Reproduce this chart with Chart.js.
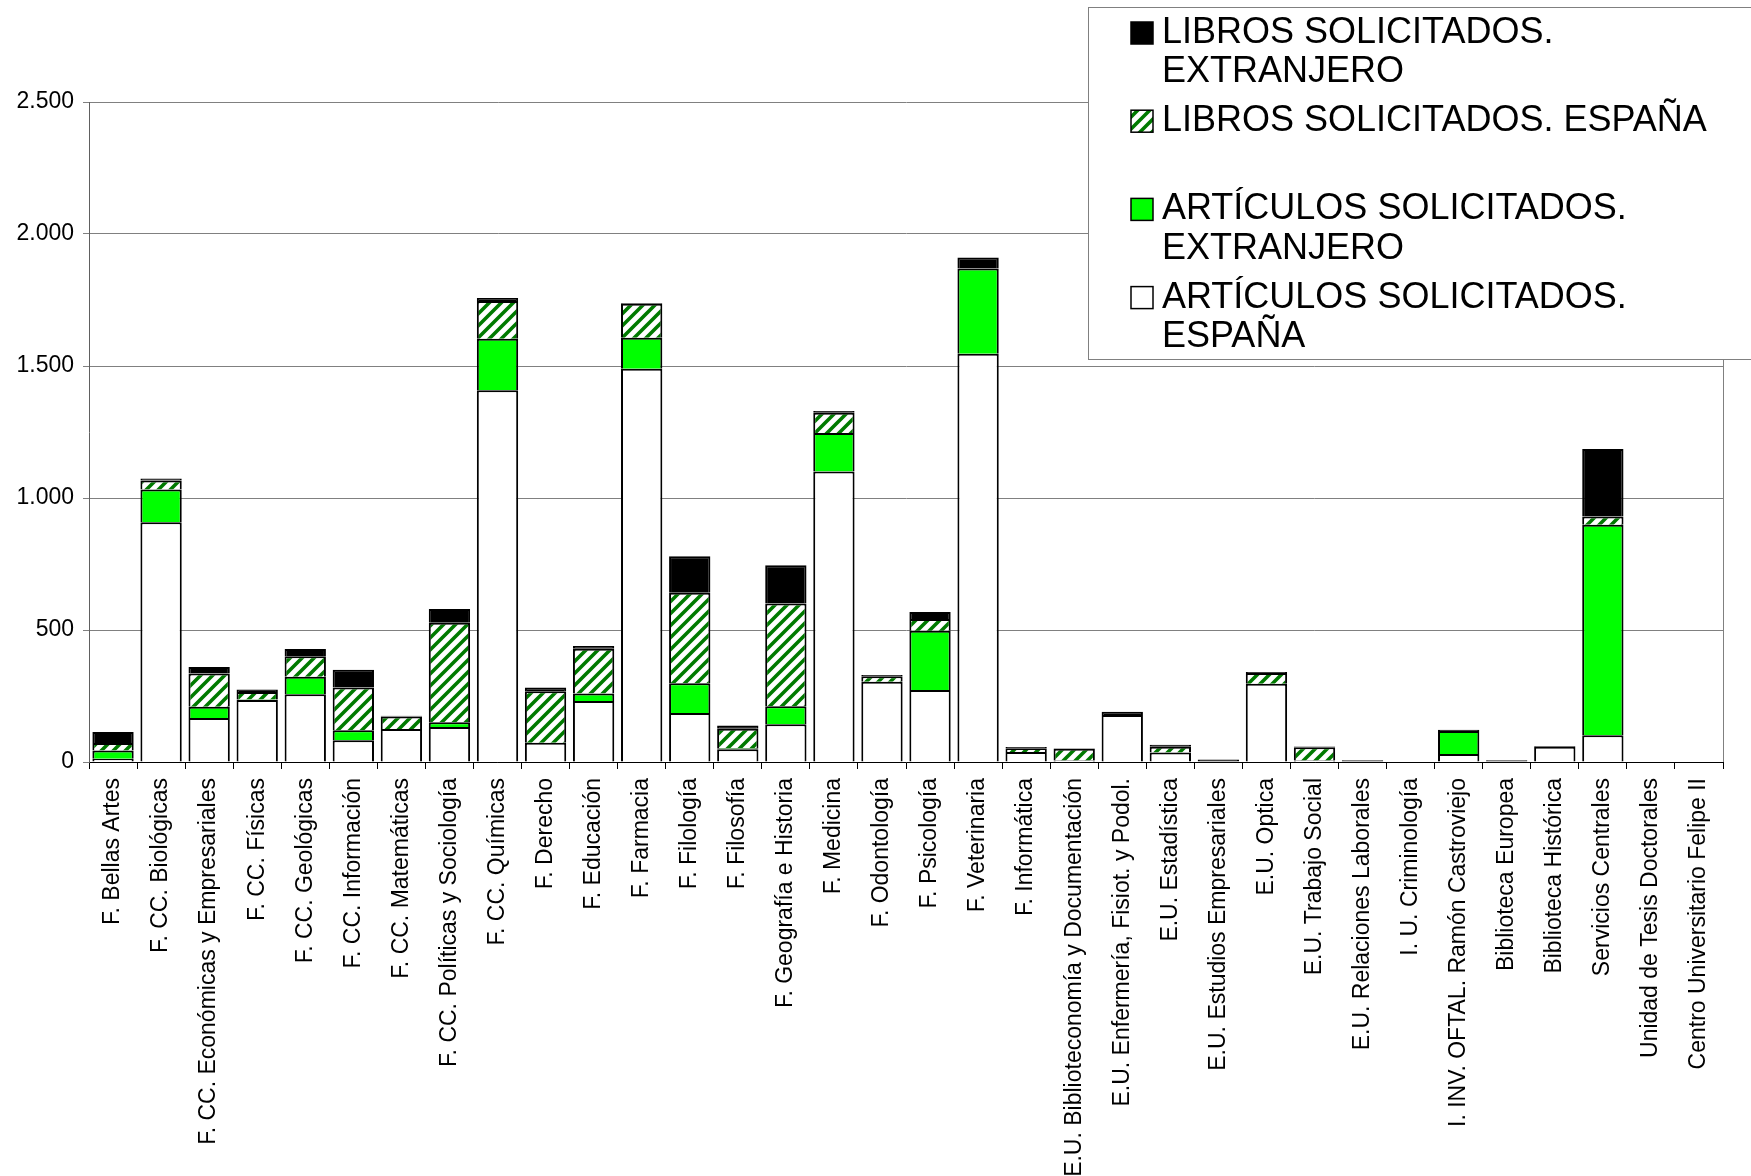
<!DOCTYPE html>
<html><head><meta charset="utf-8">
<script src="https://cdn.jsdelivr.net/npm/chart.js@4.4.1/dist/chart.umd.min.js"></script>
<style>html,body{margin:0;padding:0;background:#fff}canvas{display:block}</style>
</head><body>
<canvas id="c" width="1751" height="1176"></canvas>
<script>
const categories = [
  "F. Bellas Artes","F. CC. Biológicas","F. CC. Económicas y Empresariales","F. CC. Físicas",
  "F. CC. Geológicas","F. CC. Información","F. CC. Matemáticas","F. CC. Políticas y Sociología",
  "F. CC. Químicas","F. Derecho","F. Educación","F. Farmacia","F. Filología","F. Filosofía",
  "F. Geografía e Historia","F. Medicina","F. Odontología","F. Psicología","F. Veterinaria",
  "F. Informática","E.U. Biblioteconomía y Documentación","E.U. Enfermería, Fisiot. y Podol.",
  "E.U. Estadística","E.U. Estudios Empresariales","E.U. Optica","E.U. Trabajo Social",
  "E.U. Relaciones Laborales","I. U. Criminología","I. INV. OFTAL. Ramón Castroviejo",
  "Biblioteca Europea","Biblioteca Histórica","Servicios Centrales","Unidad de Tesis Doctorales",
  "Centro Universitario Felipe II"
];
const seriesNames = [
  "ARTÍCULOS SOLICITADOS. ESPAÑA",
  "ARTÍCULOS SOLICITADOS. EXTRANJERO",
  "LIBROS SOLICITADOS. ESPAÑA",
  "LIBROS SOLICITADOS. EXTRANJERO"
];
const articulosEspana     = [12, 908, 167, 235, 257, 82, 125, 133, 1408, 73, 231, 1490, 186, 48, 143, 1100, 304, 273, 1546, 38, 6, 178, 36, 0, 296, 6, 0, 0, 30, 0, 58, 101, 0, 0];
const articulosExtranjero = [32, 124, 42, 2, 66, 38, 0, 18, 195, 0, 28, 117, 112, 4, 68, 146, 0, 224, 323, 0, 0, 0, 0, 0, 0, 0, 0, 0, 87, 0, 0, 798, 0, 0];
const librosEspana        = [28, 34, 126, 28, 78, 162, 47, 376, 143, 195, 170, 129, 343, 74, 389, 77, 21, 45, 0, 14, 44, 0, 22, 0, 41, 50, 0, 0, 0, 0, 0, 31, 0, 0];
const librosExtranjero    = [42, 8, 25, 10, 27, 67, 3, 53, 12, 14, 10, 3, 138, 12, 145, 7, 5, 26, 42, 5, 2, 12, 7, 9, 4, 3, 7, 0, 5, 7, 3, 256, 0, 0];
const yTicks = [0, 500, 1000, 1500, 2000, 2500];

const FONT = '"Liberation Sans", Arial, Helvetica, sans-serif';
Chart.defaults.font.family = FONT;
Chart.defaults.color = '#000';

function fmt(v){ return String(v).replace(/\B(?=(\d{3})+(?!\d))/g, '.'); }

const canvas = document.getElementById('c');
const ctx = canvas.getContext('2d');

function makeHatch(){
  const s = 12;
  const c = document.createElement('canvas'); c.width = s; c.height = s;
  const g = c.getContext('2d');
  g.fillStyle = '#fff'; g.fillRect(0,0,s,s);
  g.strokeStyle = '#007a00'; g.lineWidth = 3.6;
  g.beginPath();
  g.moveTo(-s/2, s/2); g.lineTo(s/2, -s/2);
  g.moveTo(0, s); g.lineTo(s, 0);
  g.moveTo(s/2, s*1.5); g.lineTo(s*1.5, s/2);
  g.stroke();
  return ctx.createPattern(c, 'repeat');
}
const hatch = makeHatch();

function wrap(c, text, maxW){
  const words = text.split(' ');
  const lines = []; let cur = '';
  words.forEach(w => {
    const t = cur ? cur + ' ' + w : w;
    if (cur && c.measureText(t).width > maxW) { lines.push(cur); cur = w; }
    else cur = t;
  });
  if (cur) lines.push(cur);
  return lines;
}

const framePlugin = {
  id: 'frame',
  beforeDatasetsDraw(chart){
    const a = chart.chartArea, c = chart.ctx;
    c.save();
    c.strokeStyle = '#808080'; c.lineWidth = 1;
    c.beginPath();
    const x = Math.round(a.right) + 0.5;
    c.moveTo(x, a.top); c.lineTo(x, a.bottom);
    c.stroke();
    c.restore();
  }
};

const legendPlugin = {
  id: 'legendBox',
  afterDraw(chart){
    const c = chart.ctx;
    c.save();
    const L = 1088.5, T = 7.5, R = 1770, B = 359.5;
    c.fillStyle = '#fff'; c.fillRect(L, T, R-L, B-T);
    c.strokeStyle = '#808080'; c.lineWidth = 1; c.strokeRect(L, T, R-L, B-T);
    c.font = '36px ' + FONT;
    c.textBaseline = 'middle';
    const order = [3, 2, 1, 0];
    order.forEach((di, k) => {
      const ds = chart.data.datasets[di];
      const y0 = 33 + k * 88.2;
      c.fillStyle = ds.backgroundColor;
      c.fillRect(1131, y0 - 11, 22, 22);
      c.strokeStyle = '#000'; c.lineWidth = 1.5;
      c.strokeRect(1131, y0 - 11, 22, 22);
      c.fillStyle = '#000';
      wrap(c, ds.label, 600).forEach((ln, j) => c.fillText(ln, 1162, y0 + j * 39.5));
    });
    c.restore();
  }
};

new Chart(ctx, {
  type: 'bar',
  data: {
    labels: categories,
    datasets: [
      { label: seriesNames[0], data: articulosEspana, backgroundColor: '#FFFFFF' },
      { label: seriesNames[1], data: articulosExtranjero, backgroundColor: '#00FF00' },
      { label: seriesNames[2], data: librosEspana, backgroundColor: hatch },
      { label: seriesNames[3], data: librosExtranjero, backgroundColor: '#000000' }
    ]
  },
  options: {
    responsive: false,
    animation: false,
    devicePixelRatio: 1,
    layout: { padding: { top: 102, right: 28, left: 0, bottom: 0 } },
    datasets: { bar: { borderColor: '#000', borderWidth: 2, borderSkipped: 'start', categoryPercentage: 1, barPercentage: 0.86 } },
    plugins: { legend: { display: false }, tooltip: { enabled: false } },
    scales: {
      x: {
        stacked: true,
        offset: true,
        z: 1,
        grid: { display: true, offset: true, drawOnChartArea: false, drawTicks: true, tickLength: 7, tickColor: '#000', tickWidth: 1 },
        border: { color: '#000', width: 1 },
        ticks: { autoSkip: false, maxRotation: 90, minRotation: 90, padding: 9, color: '#000', font: { family: FONT, size: 23 } },
        afterFit(s){ s.height = 414; }
      },
      y: {
        stacked: true,
        min: 0, max: 2500,
        afterBuildTicks(s){ s.ticks = yTicks.map(v => ({ value: v })); },
        ticks: { padding: 9, color: '#000', font: { family: FONT, size: 23 }, callback: v => fmt(v) },
        grid: { color: '#808080', lineWidth: 1, tickLength: 6, tickColor: '#808080' },
        border: { color: '#606060', width: 1 },
        afterFit(s){ s.width = 89; }
      }
    }
  },
  plugins: [framePlugin, legendPlugin]
});
</script>
</body></html>
